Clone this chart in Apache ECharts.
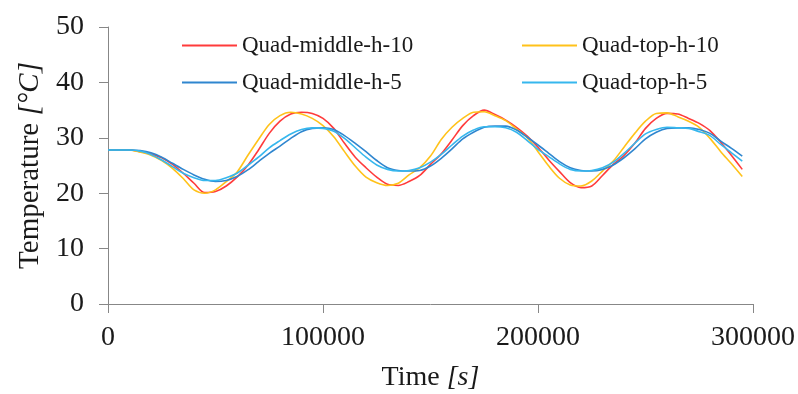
<!DOCTYPE html>
<html>
<head>
<meta charset="utf-8">
<script src="https://cdn.jsdelivr.net/npm/echarts@6/dist/echarts.min.js"></script>
<style>html,body{margin:0;padding:0;background:#fff}#c{width:798px;height:394px}</style>
</head>
<body>
<div id="c"></div>
<script>
const timeS = [0,5000,10000,15000,20000,25000,30000,35000,40000,45000,
  50000,55000,60000,65000,70000,75000,80000,85000,90000,95000,
  100000,105000,110000,115000,120000,125000,130000,135000,140000,145000,
  150000,155000,160000,165000,170000,175000,180000,185000,190000,195000,
  200000,205000,210000,215000,220000,225000,230000,235000,240000,245000,
  250000,255000,260000,265000,270000,275000,280000,285000,290000,295000];

const quadMiddleH10 = [27.8,27.8,27.8,27.5,27.1,26.4,25.2,23.6,21.8,20.1,
  20.3,21.3,22.9,25.0,27.8,30.8,33.0,34.3,34.6,34.4,
  33.5,31.7,29.0,26.5,24.6,22.9,21.6,21.4,22.1,23.2,
  25.2,27.1,29.6,32.2,34.0,35.0,34.2,33.2,31.9,30.3,
  28.3,26.0,23.9,21.9,21.0,21.3,23.2,25.2,26.8,29.0,
  31.7,33.5,34.4,34.3,33.5,32.6,31.3,29.2,26.8,24.3];

const quadTopH10 = [27.8,27.8,27.8,27.4,26.85,25.9,24.5,22.65,20.6,20.0,
  20.6,22.1,23.8,26.8,29.7,32.4,34.0,34.6,34.3,33.5,
  32.2,30.2,27.5,24.9,22.9,21.9,21.4,21.8,23.3,24.6,
  26.7,29.7,31.9,33.5,34.6,34.7,34.0,33.1,31.6,30.0,
  27.5,24.9,22.7,21.5,21.3,22.2,24.0,25.8,28.3,30.8,
  33.0,34.4,34.5,33.8,33.0,31.9,29.9,27.5,25.3,23.0];

const quadMiddleH5 = [27.8,27.8,27.8,27.7,27.3,26.5,25.4,24.3,23.3,22.5,
  22.1,22.3,23.0,24.2,25.7,27.2,28.5,29.9,31.1,31.7,
  31.8,31.5,30.4,29.0,27.5,25.9,24.6,24.1,24.0,24.1,
  24.9,26.3,28.0,29.8,31.0,31.9,32.1,32.1,31.4,30.1,
  28.7,27.2,25.7,24.6,24.1,24.0,24.3,25.1,26.4,28.0,
  29.8,31.0,31.7,31.8,31.8,31.5,30.8,29.4,28.1,26.7];

const quadTopH5 = [27.8,27.8,27.8,27.6,27.0,26.0,24.8,23.6,22.8,22.3,
  22.3,22.8,23.6,25.0,26.5,28.2,29.5,30.7,31.5,31.8,
  31.7,31.2,29.9,28.2,26.5,25.1,24.3,24.0,24.1,24.6,
  25.6,27.0,28.7,30.3,31.4,32.0,32.0,31.8,31.0,29.5,
  27.9,26.6,25.3,24.3,24.0,24.1,24.6,25.6,27.2,29.0,
  30.7,31.5,31.9,31.8,31.7,31.1,30.4,28.8,27.3,25.8];

const seriesNames = ['Quad-middle-h-10','Quad-top-h-10','Quad-middle-h-5','Quad-top-h-5'];
const seriesColors = ['#FF3B3B','#FFC21A','#2F86CF','#36B7EE'];
const yTicks = {min:0, max:50, interval:10};
const xTicks = {min:0, max:300000, interval:100000};

const FONT = "'Liberation Serif','Times New Roman',serif";
const TXT = '#1a1a1a';
const AX = '#878787';

function pairs(vals){ return timeS.map((t,i)=>[t, vals[i]]); }
const allVals = [quadMiddleH10, quadTopH10, quadMiddleH5, quadTopH5];

const chart = echarts.init(document.getElementById('c'), null, {renderer:'canvas'});
const legendText = {fontFamily: FONT, fontSize: 23, color: TXT};
chart.setOption({
  animation: false,
  backgroundColor: '#fff',
  grid: {left: 108, right: 45, top: 27, bottom: 90, containLabel: false, outerBoundsMode: 'none'},
  legend: [
    {data: [seriesNames[0], seriesNames[2]], orient: 'vertical', left: 177, top: 29,
     itemWidth: 55, itemHeight: 2, itemGap: 14, icon: 'rect', textStyle: legendText},
    {data: [seriesNames[1], seriesNames[3]], orient: 'vertical', left: 517, top: 29,
     itemWidth: 55, itemHeight: 2, itemGap: 14, icon: 'rect', textStyle: legendText}
  ],
  xAxis: {
    type: 'value', min: xTicks.min, max: xTicks.max, interval: xTicks.interval,
    name: 'Time {i|[s]}', nameLocation: 'middle', nameGap: 60,
    nameTextStyle: {fontFamily: FONT, fontSize: 28, color: TXT,
      rich: {i: {fontFamily: FONT, fontSize: 28, color: TXT, fontStyle: 'italic'}}},
    axisLine: {show: true, lineStyle: {color: AX, width: 1}},
    axisTick: {show: true, inside: false, length: 9, lineStyle: {color: AX}},
    axisLabel: {fontFamily: FONT, fontSize: 28, color: TXT, margin: 20,
      formatter: v => String(v)},
    splitLine: {show: false}
  },
  yAxis: {
    type: 'value', min: yTicks.min, max: yTicks.max, interval: yTicks.interval,
    name: 'Temperature {i|[°C]}', nameLocation: 'middle', nameGap: 62,
    nameTextStyle: {fontFamily: FONT, fontSize: 29, color: TXT,
      rich: {i: {fontFamily: FONT, fontSize: 29, color: TXT, fontStyle: 'italic'}}},
    axisLine: {show: true, lineStyle: {color: AX, width: 1}},
    axisTick: {show: true, inside: false, length: 9, lineStyle: {color: AX}},
    axisLabel: {fontFamily: FONT, fontSize: 28, color: TXT, margin: 24},
    splitLine: {show: false}
  },
  series: seriesNames.map((n,k)=>({
    name: n, type: 'line', data: pairs(allVals[k]), showSymbol: false, symbol: 'none',
    smooth: 0.3, color: seriesColors[k], itemStyle: {color: seriesColors[k]},
    lineStyle: {color: seriesColors[k], width: 1.6}
  }))
});
</script>
</body>
</html>
